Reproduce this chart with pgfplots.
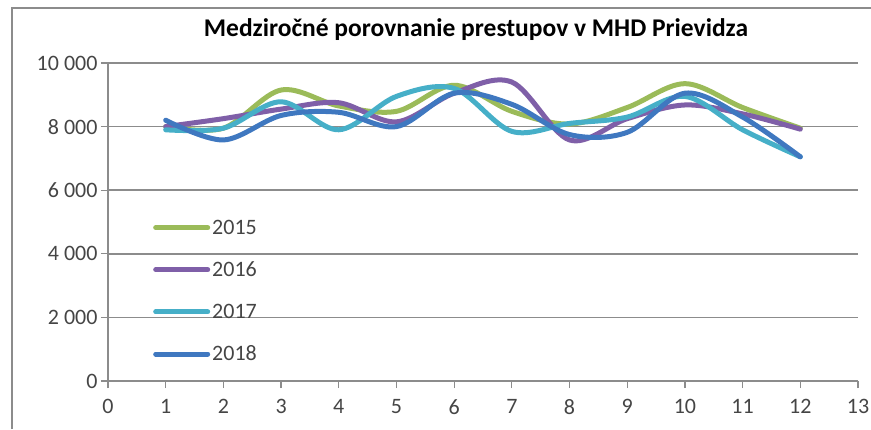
\documentclass[border=0pt]{standalone}
\usepackage{pgfplots}
\pgfplotsset{compat=1.18}
\usepackage{fontspec}
\setmainfont{Carlito}
\definecolor{c15}{HTML}{9BBB59}
\definecolor{c16}{HTML}{7F5FA8}
\definecolor{c17}{HTML}{46AFC8}
\definecolor{c18}{HTML}{3F78C0}
\definecolor{gridc}{HTML}{8C8C8C}
\definecolor{tickc}{HTML}{454545}
\begin{document}
\begin{tikzpicture}[x=1pt,y=1pt]
\useasboundingbox (0,0) rectangle (871,429);
\draw[gridc, line width=2pt] (12,0) -- (12,421) -- (871,421);
\node[font=\fontsize{25.5}{28}\selectfont\bfseries] at (476,399) {Medziročné porovnanie prestupov v MHD Prievidza};
\begin{axis}[
  at={(108pt,48pt)}, anchor=origin,
  scale only axis, width=750pt, height=318pt,
  xmin=0, xmax=13, ymin=0, ymax=10000,
  xtick={0,...,13}, ytick={0,2000,4000,6000,8000,10000},
  yticklabels={0,2 000,4 000,6 000,8 000,10 000},
  scaled y ticks=false,
  axis x line*=bottom, axis y line*=left,
  axis line style={gridc, line width=1.6pt},
  x axis line style={-}, y axis line style={-},
  ymajorgrids, grid style={gridc, line width=1.6pt},
  tick style={gridc, line width=1.2pt},
  tick align=outside, major tick length=7pt,
  ticklabel style={font=\fontsize{22}{24}\selectfont, text=tickc},
  xticklabel style={yshift=-8pt},
  /pgf/number format/assume math mode=true,
  clip=false,
  legend style={at={(0.056,0.52)}, anchor=north west, draw=none, fill=none,
    font=\fontsize{22}{24}\selectfont, text=tickc, row sep=22pt},
  legend cell align=left,
  legend image code/.code={\draw[#1, line width=5pt, line cap=round] (0pt,0pt) -- (52pt,0pt);},
  every axis plot/.append style={line width=5pt, smooth, tension=0.55, line cap=round},
]
\addplot[c15] coordinates {(1,8000)(2,7950)(3,9150)(4,8650)(5,8480)(6,9300)(7,8480)(8,8080)(9,8600)(10,9350)(11,8600)(12,7950)};
\addlegendentry{2015}
\addplot[c16] coordinates {(1,8000)(2,8250)(3,8550)(4,8750)(5,8150)(6,9050)(7,9400)(8,7580)(9,8250)(10,8680)(11,8400)(12,7920)};
\addlegendentry{2016}
\addplot[c17] coordinates {(1,7900)(2,7950)(3,8780)(4,7900)(5,8950)(6,9200)(7,7850)(8,8100)(9,8300)(10,8950)(11,7900)(12,7050)};
\addlegendentry{2017}
\addplot[c18] coordinates {(1,8200)(2,7580)(3,8350)(4,8450)(5,8000)(6,9050)(7,8700)(8,7750)(9,7820)(10,9050)(11,8300)(12,7050)};
\addlegendentry{2018}
\end{axis}
\end{tikzpicture}
\end{document}
